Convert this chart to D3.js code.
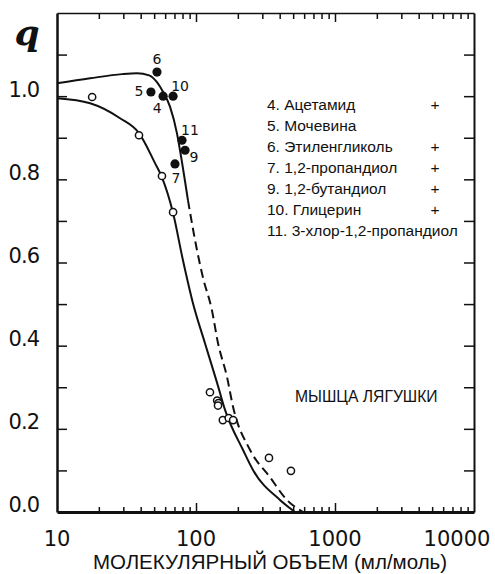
<!DOCTYPE html>
<html>
<head>
<meta charset="utf-8">
<script src="https://cdn.jsdelivr.net/npm/d3@7"></script>
<style>
body { margin: 0; background: #fff; }
svg { display: block; }
text { fill: #111; }
</style>
</head>
<body>
<svg id="chart"></svg>
<script>
// ---- values ----
const xTickValues = [10, 100, 1000, 10000];
const xTickLabels = ["10", "100", "1000", "10000"];
const yTickValues = [0, 0.2, 0.4, 0.6, 0.8, 1.0];
const yTickLabels = ["0.0", "0.2", "0.4", "0.6", "0.8", "1.0"];

// numbered substances (filled circles)
const filledNames = ["4", "5", "6", "7", "9", "10", "11"];
const filledVolume = [58, 47.4, 52.4, 70.6, 83.4, 68.4, 79.3];
const filledQ = [1.0, 1.01, 1.058, 0.837, 0.87, 1.0, 0.894];

// open circles
const openVolume = [17.9, 38.9, 56.9, 68.4, 126, 142, 145, 144, 156, 172, 185, 335, 482];
const openQ = [0.998, 0.906, 0.808, 0.721, 0.288, 0.268, 0.262, 0.256, 0.221, 0.226, 0.221, 0.130, 0.099];

// upper curve: solid part, then dashed continuation
const upperSolidVolume = [10, 17.3, 29.4, 37.6, 46, 52, 58, 65, 72.9, 76.7, 87.5];
const upperSolidQ = [1.031, 1.043, 1.053, 1.055, 1.050, 1.035, 1.010, 0.975, 0.911, 0.870, 0.750];
const upperDashVolume = [87.5, 101.6, 112, 130, 144, 167, 185, 245, 340, 451, 589];
const upperDashQ = [0.750, 0.630, 0.565, 0.486, 0.406, 0.325, 0.252, 0.149, 0.084, 0.029, 0];

// lower curve (through open circles)
const lowerVolume = [10, 17.3, 28.4, 38.9, 50.7, 56.9, 68.4, 80.5, 95.1, 116, 142, 162, 218, 257, 402, 515];
const lowerQ = [0.995, 0.983, 0.947, 0.911, 0.839, 0.805, 0.719, 0.606, 0.502, 0.406, 0.310, 0.245, 0.149, 0.101, 0.029, 0];

const legendItems = ["4. Ацетамид", "5. Мочевина", "6. Этиленгликоль", "7. 1,2-пропандиол",
    "9. 1,2-бутандиол", "10. Глицерин", "11. 3-хлор-1,2-пропандиол"];
const legendMarks = ["+", "", "+", "+", "+", "+", ""];

// ---- layout ----
const width = 495, height = 574;
const margin = { top: 13, right: 21, bottom: 62, left: 57 };

const svg = d3.select("#chart")
    .attr("width", width)
    .attr("height", height);

const x = d3.scaleLog()
    .domain([10, 10000])
    .range([margin.left, width - margin.right]);

const y = d3.scaleLinear()
    .domain([0, 1.2])
    .range([height - margin.bottom, margin.top]);

const tickFont = "DejaVu Sans, sans-serif";
const textFont = "Liberation Sans, Arial, sans-serif";

// minor/major log ticks and 0.1 steps for q
const logTicks = x.ticks().filter(d => d > 10 && d < 10000);
const qTicks = y.ticks(12).filter(d => d > 0.05 && d < 1.15);

function styleAxis(g, lineWidth) {
    g.select(".domain").attr("stroke", "#111").attr("stroke-width", lineWidth);
    g.selectAll(".tick line").attr("stroke", "#111").attr("stroke-width", 1.5);
    g.selectAll(".tick text").remove();
}

// bottom axis, ticks pointing up
const bottomAxis = svg.append("g")
    .attr("transform", `translate(0,${y(0)})`)
    .call(d3.axisBottom(x).tickValues(logTicks).tickSize(-5).tickSizeOuter(0).tickFormat(""))
    .call(g => styleAxis(g, 3));
bottomAxis.selectAll(".tick line")
    .filter(d => xTickValues.includes(d))
    .attr("y2", -9);

// top axis, ticks pointing down
const topAxis = svg.append("g")
    .attr("transform", `translate(0,${y(1.2)})`)
    .call(d3.axisTop(x).tickValues(logTicks).tickSize(-6).tickSizeOuter(0).tickFormat(""))
    .call(g => styleAxis(g, 1.5));
topAxis.selectAll(".tick line")
    .filter(d => xTickValues.includes(d))
    .attr("y2", 9);

// left and right axes, ticks pointing inward
svg.append("g")
    .attr("transform", `translate(${x(10)},0)`)
    .call(d3.axisLeft(y).tickValues(qTicks).tickSize(-10).tickSizeOuter(0).tickFormat(""))
    .call(g => styleAxis(g, 2.5));

svg.append("g")
    .attr("transform", `translate(${x(10000)},0)`)
    .call(d3.axisRight(y).tickValues(qTicks).tickSize(-10).tickSizeOuter(0).tickFormat(""))
    .call(g => styleAxis(g, 2));

// x tick labels
svg.append("g")
    .selectAll("text")
    .data(xTickValues)
    .join("text")
    .attr("x", d => x(d))
    .attr("dx", (d, i) => i === xTickValues.length - 1 ? -17 : 0)
    .attr("y", y(0) + 34)
    .attr("text-anchor", "middle")
    .style("font-family", tickFont)
    .style("font-size", "21px")
    .text((d, i) => xTickLabels[i]);

// y tick labels
svg.append("g")
    .selectAll("text")
    .data(yTickValues)
    .join("text")
    .attr("x", 39)
    .attr("y", d => y(d) - 7)
    .attr("dy", "0.35em")
    .attr("text-anchor", "end")
    .style("font-family", tickFont)
    .style("font-size", "21px")
    .style("letter-spacing", "-1px")
    .text((d, i) => yTickLabels[i]);

// axis titles
svg.append("text")
    .attr("x", 270)
    .attr("y", 569)
    .attr("text-anchor", "middle")
    .style("font-family", textFont)
    .style("font-size", "20.5px")
    .text("МОЛЕКУЛЯРНЫЙ ОБЪЕМ (мл/моль)");

svg.append("text")
    .attr("x", 27)
    .attr("y", 45)
    .attr("text-anchor", "middle")
    .style("font-family", "DejaVu Serif, serif")
    .style("font-style", "italic")
    .style("font-weight", "bold")
    .style("font-size", "36px")
    .text("q");

// curves
const line = d3.line()
    .x(d => x(d[0]))
    .y(d => y(d[1]))
    .curve(d3.curveMonotoneX);

svg.append("path")
    .attr("d", line(d3.zip(upperSolidVolume, upperSolidQ)))
    .attr("fill", "none")
    .attr("stroke", "#111")
    .attr("stroke-width", 2);

svg.append("path")
    .attr("d", line(d3.zip(upperDashVolume, upperDashQ)))
    .attr("fill", "none")
    .attr("stroke", "#111")
    .attr("stroke-width", 2)
    .attr("stroke-dasharray", "9,5");

svg.append("path")
    .attr("d", line(d3.zip(lowerVolume, lowerQ)))
    .attr("fill", "none")
    .attr("stroke", "#111")
    .attr("stroke-width", 2);

// open circles
svg.append("g")
    .selectAll("circle")
    .data(d3.zip(openVolume, openQ))
    .join("circle")
    .attr("cx", d => x(d[0]))
    .attr("cy", d => y(d[1]))
    .attr("r", 3.6)
    .attr("fill", "#fff")
    .attr("stroke", "#111")
    .attr("stroke-width", 1.5);

// filled circles with their numbers
svg.append("g")
    .selectAll("circle")
    .data(d3.zip(filledVolume, filledQ))
    .join("circle")
    .attr("cx", d => x(d[0]))
    .attr("cy", d => y(d[1]))
    .attr("r", 4.6)
    .attr("fill", "#111");

// label offsets (px) from each point, by substance number
const labelOffset = {
    "4": [-6, 12], "5": [-12, -1], "6": [0, -13], "7": [1, 14],
    "9": [9, 7], "10": [7, -10], "11": [8, -10]
};

svg.append("g")
    .selectAll("text")
    .data(filledNames)
    .join("text")
    .attr("x", (d, i) => x(filledVolume[i]) + labelOffset[d][0])
    .attr("y", (d, i) => y(filledQ[i]) + labelOffset[d][1])
    .attr("dy", "0.35em")
    .attr("text-anchor", "middle")
    .style("font-family", tickFont)
    .style("font-size", "14px")
    .text(d => d);

// legend
const legend = svg.append("g")
    .style("font-family", textFont)
    .style("font-size", "15.5px");

legend.selectAll("text.item")
    .data(legendItems)
    .join("text")
    .attr("class", "item")
    .attr("x", 267)
    .attr("y", (d, i) => 110 + i * 21)
    .text(d => d);

legend.selectAll("text.mark")
    .data(legendMarks)
    .join("text")
    .attr("class", "mark")
    .attr("x", 435)
    .attr("y", (d, i) => 110 + i * 21)
    .attr("text-anchor", "middle")
    .text(d => d);

svg.append("text")
    .attr("x", 295)
    .attr("y", 402)
    .style("font-family", textFont)
    .style("font-size", "15.7px")
    .text("МЫШЦА ЛЯГУШКИ");
</script>
</body>
</html>
